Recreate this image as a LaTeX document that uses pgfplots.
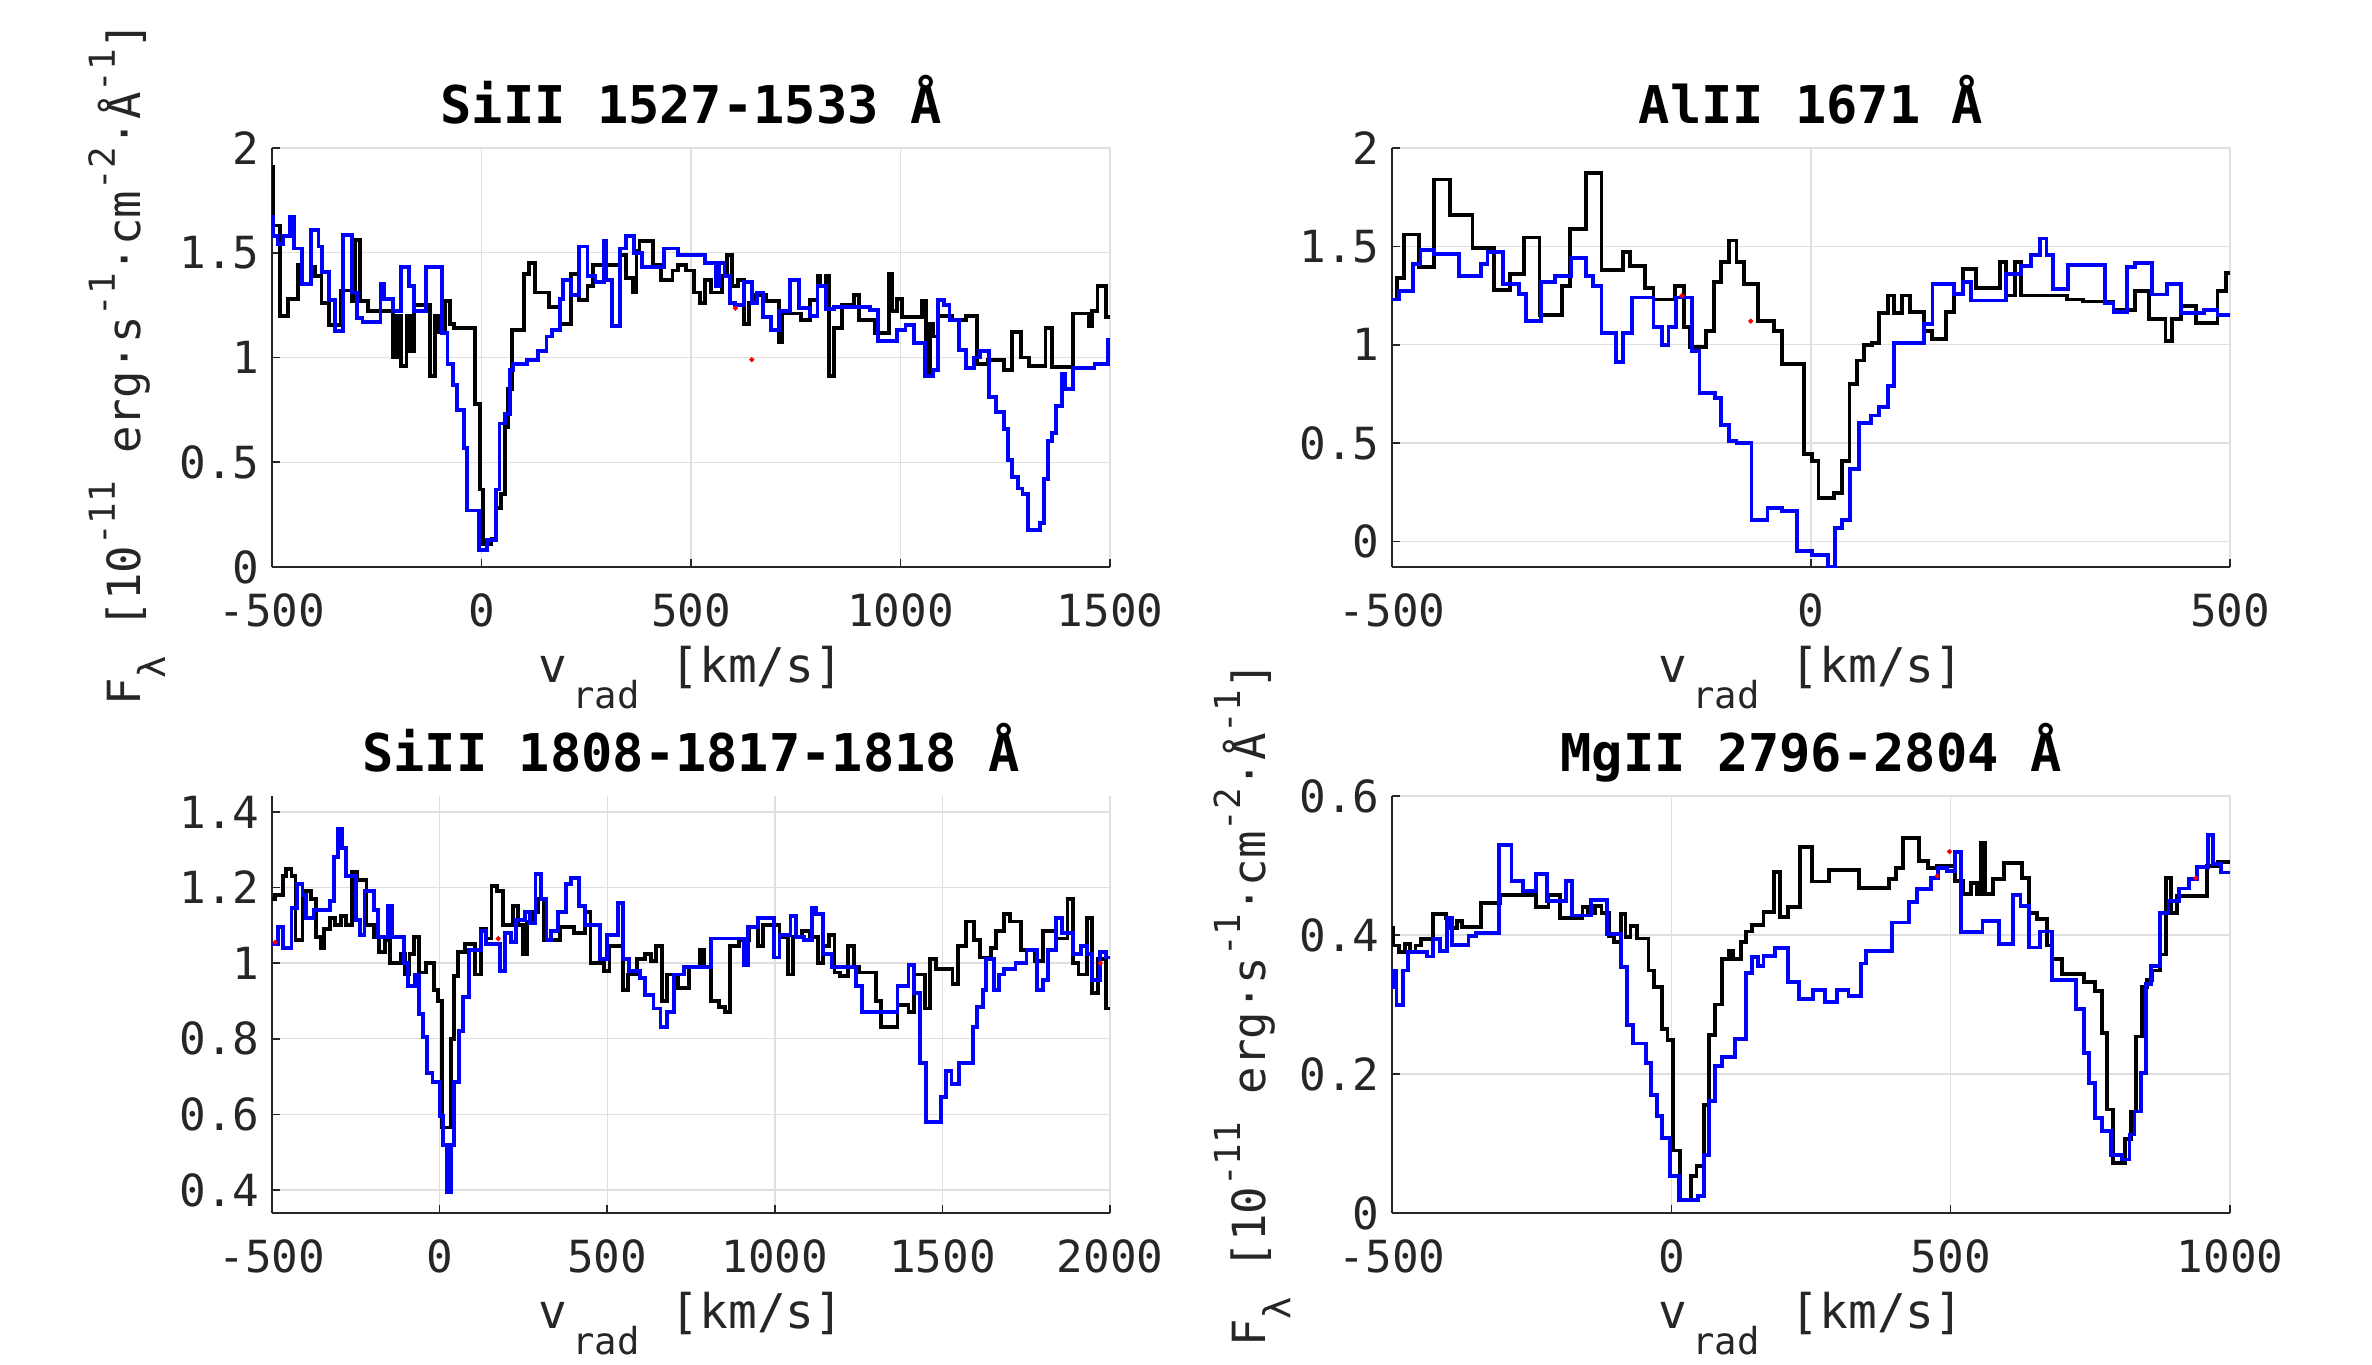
\documentclass[border=0pt]{standalone}
\usepackage{fontspec}
\setmainfont{DejaVu Sans Mono}
\usepackage{pgfplots}
\pgfplotsset{compat=1.18}
\definecolor{gridc}{RGB}{223,223,223}
\definecolor{axc}{RGB}{38,38,38}
\definecolor{mblue}{RGB}{0,0,255}
\newcommand{\sups}[1]{\raisebox{0.55em}{\fontsize{10.2}{11}\selectfont #1}}
\newcommand{\subs}[1]{\raisebox{-0.55em}{\fontsize{10.6}{11}\selectfont #1}}
\pgfplotsset{
 panel/.style={
  scale only axis, width=83.8mm, height=41.9mm, anchor=south west,
  axis lines*=left, axis line style={axc, line width=0.45pt},
  tick align=inside, major tick length=0.8mm, tick style={axc, line width=0.45pt},
  grid=major, grid style={gridc, line width=0.4pt},
  enlargelimits=false, clip=true,
  /pgf/number format/assume math mode=true,
  /pgf/number format/1000 sep={},
  ticklabel style={font=\fontsize{12.6}{15}\selectfont, text=axc},
  xticklabel style={anchor=base, yshift=-5.95mm},
  title style={font=\bfseries\fontsize{14.8}{18}\selectfont, at={(axis description cs:0.5,1)}, anchor=base, yshift=0.3mm},
  xlabel style={font=\fontsize{13.6}{16}\selectfont, text=axc, at={(axis description cs:0.5,0)}, anchor=base, yshift=-11.5mm},
  xlabel={v\hspace{0.1em}\subs{rad}\hspace{0.05em} [km/s]},
  ylabel style={font=\fontsize{13.0}{16}\selectfont, text=axc, anchor=base},
 },
 blk/.style={black, line width=1.1pt, const plot mark left, no marks},
 blu/.style={mblue, line width=1.1pt, const plot mark left, no marks},
 rdot/.style={red, only marks, mark=*, mark size=0.5pt},
}
\begin{document}
\begin{tikzpicture}
\useasboundingbox (0,0) rectangle (237.2mm,136.4mm);
% ---------------- Panel 1
\begin{axis}[panel, at={(27.2mm,79.7mm)},
  xmin=-500, xmax=1500, ymin=0, ymax=2,
  xtick={-500,0,500,1000,1500}, ytick={0,0.5,1,1.5,2},
  title={SiII 1527-1533 Å},
  ylabel={F\subs{λ} [10\sups{-11} erg·s\sups{-1}·cm\sups{-2}·Å\sups{-1}]},
  ylabel style={at={(axis description cs:-0.1575,0.485)}}]
\addplot[blk] coordinates {(-500,1.91) (-497,1.63) (-480,1.20) (-461,1.28) (-437,1.44) (-428,1.35) (-406,1.43) (-398,1.39) (-382,1.26) (-363,1.155) (-336,1.32) (-310,1.27) (-301,1.56) (-291,1.27) (-271,1.22) (-212,1.00) (-202,1.20) (-192,0.96) (-179,1.20) (-170,1.03) (-162,1.25) (-123,0.91) (-110,1.20) (-101,1.12) (-88,1.27) (-75,1.16) (-65,1.14) (-16,0.78) (-3,0.37) (4,0.11) (24,0.135) (34,0.28) (47,0.35) (56,0.67) (63,0.85) (73,1.13) (102,1.40) (113,1.45) (128,1.31) (161,1.24) (187,1.16) (213,1.40) (233,1.275) (253,1.34) (266,1.44) (331,1.49) (344,1.38) (361,1.31) (370,1.51) (377,1.555) (410,1.44) (429,1.37) (456,1.415) (469,1.44) (488,1.415) (508,1.31) (521,1.26) (534,1.37) (547,1.31) (573,1.39) (586,1.49) (597,1.34) (613,1.37) (626,1.16) (639,1.26) (652,1.30) (678,1.27) (711,1.075) (717,1.21) (763,1.18) (783,1.275) (802,1.39) (809,1.34) (822,1.39) (829,0.91) (842,1.14) (861,1.25) (888,1.30) (901,1.18) (940,1.115) (973,1.40) (979,1.22) (992,1.28) (1003,1.195) (1051,1.27) (1060,0.91) (1071,1.16) (1077,1.10) (1090,1.20) (1123,1.18) (1156,1.20) (1182,0.97) (1208,0.99) (1248,0.94) (1267,1.12) (1287,1.0) (1306,0.96) (1346,1.14) (1361,0.955) (1411,1.21) (1450,1.15) (1456,1.22) (1470,1.34) (1490,1.195) (1500,1.195)};
\addplot[blu] coordinates {(-500,1.67) (-498,1.58) (-487,1.54) (-474,1.58) (-458,1.67) (-448,1.52) (-428,1.35) (-406,1.61) (-389,1.53) (-380,1.41) (-363,1.275) (-349,1.125) (-330,1.585) (-310,1.31) (-297,1.19) (-284,1.17) (-241,1.35) (-232,1.28) (-212,1.22) (-192,1.43) (-173,1.34) (-162,1.22) (-133,1.43) (-94,1.115) (-81,0.97) (-68,0.87) (-58,0.75) (-42,0.57) (-35,0.27) (-5,0.08) (13,0.13) (34,0.37) (43,0.685) (56,0.73) (69,0.94) (76,0.97) (109,0.99) (135,1.03) (155,1.10) (168,1.13) (187,1.28) (194,1.37) (213,1.30) (233,1.53) (253,1.39) (272,1.36) (292,1.555) (298,1.37) (312,1.15) (331,1.52) (344,1.58) (364,1.50) (384,1.43) (436,1.52) (469,1.49) (534,1.45) (560,1.34) (567,1.45) (580,1.39) (593,1.26) (606,1.25) (626,1.36) (645,1.26) (658,1.31) (672,1.195) (691,1.13) (711,1.22) (737,1.37) (757,1.235) (783,1.20) (802,1.34) (822,1.23) (842,1.24) (927,1.225) (946,1.08) (992,1.13) (1012,1.155) (1032,1.07) (1058,0.91) (1077,0.94) (1090,1.275) (1104,1.25) (1117,1.18) (1139,1.035) (1156,0.95) (1176,1.0) (1189,1.03) (1212,0.81) (1228,0.74) (1247,0.66) (1257,0.51) (1267,0.43) (1280,0.375) (1291,0.35) (1304,0.175) (1333,0.21) (1343,0.42) (1352,0.60) (1361,0.64) (1372,0.77) (1385,0.92) (1392,0.85) (1411,0.95) (1463,0.97) (1496,1.085) (1500,1.085)};
\addplot[rdot] coordinates {(606,1.235) (645,0.99)};
\end{axis}
% ---------------- Panel 2
\begin{axis}[panel, at={(139.2mm,79.7mm)},
  xmin=-500, xmax=500, ymin=-0.13, ymax=2,
  xtick={-500,0,500}, ytick={0,0.5,1,1.5,2},
  title={AlII 1671 Å}]
\addplot[blk] coordinates {(-500,1.23) (-494,1.34) (-486,1.56) (-468,1.395) (-450,1.84) (-431,1.66) (-404,1.49) (-378,1.28) (-359,1.36) (-342,1.545) (-324,1.15) (-297,1.30) (-288,1.59) (-268,1.875) (-250,1.38) (-224,1.47) (-216,1.40) (-198,1.29) (-188,1.23) (-162,1.30) (-152,1.09) (-144,0.99) (-125,1.07) (-116,1.32) (-107,1.42) (-98,1.53) (-89,1.42) (-80,1.31) (-63,1.12) (-44,1.07) (-35,0.90) (-8,0.445) (1,0.41) (9,0.22) (27,0.245) (37,0.41) (46,0.80) (55,0.92) (63,1.0) (73,1.01) (81,1.16) (92,1.25) (99,1.16) (109,1.25) (118,1.165) (135,1.07) (144,1.03) (161,1.165) (171,1.26) (181,1.385) (197,1.29) (225,1.42) (233,1.25) (243,1.42) (251,1.25) (305,1.23) (325,1.22) (361,1.175) (387,1.275) (403,1.13) (423,1.02) (431,1.13) (441,1.195) (459,1.11) (485,1.275) (495,1.365) (500,1.365)};
\addplot[blu] coordinates {(-500,1.23) (-492,1.275) (-475,1.41) (-466,1.48) (-450,1.46) (-420,1.35) (-394,1.41) (-386,1.47) (-368,1.31) (-348,1.26) (-340,1.12) (-322,1.32) (-306,1.35) (-286,1.44) (-268,1.35) (-260,1.30) (-250,1.06) (-233,0.91) (-224,1.06) (-214,1.24) (-188,1.09) (-178,1.0) (-170,1.09) (-161,1.24) (-142,0.97) (-133,0.755) (-115,0.73) (-107,0.59) (-98,0.51) (-89,0.50) (-71,0.11) (-52,0.17) (-35,0.155) (-17,-0.05) (1,-0.07) (20,-0.13) (29,0.07) (37,0.11) (47,0.37) (57,0.60) (72,0.64) (81,0.685) (92,0.79) (99,1.01) (135,1.105) (145,1.31) (171,1.26) (181,1.32) (191,1.225) (233,1.36) (251,1.40) (263,1.455) (273,1.54) (281,1.455) (289,1.285) (307,1.405) (351,1.21) (361,1.165) (377,1.395) (387,1.415) (407,1.255) (425,1.31) (441,1.16) (469,1.175) (485,1.15) (500,1.15)};
\addplot[rdot] coordinates {(-154,1.25) (-72,1.12)};
\end{axis}
% ---------------- Panel 3
\begin{axis}[panel, at={(27.2mm,15.1mm)}, height=41.7mm,
  xmin=-500, xmax=2000, ymin=0.339, ymax=1.442,
  xtick={-500,0,500,1000,1500,2000}, ytick={0.4,0.6,0.8,1,1.2,1.4},
  title={SiII 1808-1817-1818 Å}]
\addplot[blk] coordinates {(-500,1.17) (-491,1.18) (-466,1.23) (-458,1.25) (-442,1.23) (-430,1.06) (-409,1.19) (-384,1.17) (-368,1.07) (-355,1.04) (-344,1.09) (-327,1.12) (-311,1.10) (-294,1.125) (-278,1.10) (-262,1.24) (-245,1.22) (-218,1.10) (-196,1.07) (-180,1.03) (-164,1.06) (-147,1.0) (-115,1.025) (-103,0.97) (-90,1.025) (-77,1.07) (-61,0.975) (-41,1.0) (-16,0.93) (-5,0.90) (8,0.565) (33,0.80) (44,0.965) (54,1.03) (77,1.05) (106,0.97) (123,1.09) (139,1.065) (155,1.205) (172,1.19) (188,1.10) (218,1.15) (234,1.10) (250,1.025) (262,1.11) (278,1.135) (294,1.17) (311,1.06) (360,1.095) (401,1.08) (434,1.135) (450,1.0) (491,0.98) (507,1.045) (548,0.93) (561,0.97) (589,1.01) (614,1.025) (630,1.005) (646,1.045) (663,0.90) (679,0.97) (712,0.935) (744,0.99) (777,1.035) (790,0.99) (810,0.90) (834,0.885) (851,0.87) (867,1.045) (892,1.06) (924,1.095) (949,1.045) (965,1.10) (1014,1.07) (1039,0.97) (1055,1.07) (1080,1.085) (1104,1.07) (1129,1.0) (1145,1.045) (1162,1.075) (1178,0.975) (1194,0.965) (1219,1.045) (1235,0.99) (1252,0.975) (1301,0.90) (1317,0.83) (1366,0.89) (1399,0.87) (1415,0.97) (1448,0.88) (1464,1.01) (1481,0.985) (1530,0.945) (1546,1.045) (1571,1.11) (1595,1.06) (1611,1.015) (1644,1.04) (1661,1.085) (1685,1.13) (1701,1.11) (1734,1.035) (1775,1.005) (1800,1.085) (1840,1.065) (1873,1.17) (1890,1.0) (1906,0.97) (1931,1.12) (1947,0.92) (1963,1.01) (1988,0.88) (2000,0.88)};
\addplot[blu] coordinates {(-500,1.05) (-483,1.095) (-466,1.04) (-442,1.145) (-425,1.21) (-409,1.18) (-398,1.12) (-376,1.14) (-327,1.165) (-316,1.28) (-303,1.355) (-290,1.305) (-278,1.23) (-250,1.115) (-237,1.075) (-224,1.19) (-196,1.14) (-185,1.07) (-155,1.15) (-142,1.07) (-106,1.0) (-93,0.94) (-74,0.97) (-61,0.865) (-49,0.805) (-38,0.71) (-21,0.685) (0,0.595) (11,0.52) (21,0.395) (33,0.52) (44,0.685) (57,0.82) (70,0.91) (87,1.035) (123,1.085) (139,1.05) (180,0.98) (196,1.08) (213,1.055) (229,1.115) (254,1.135) (270,1.105) (286,1.235) (303,1.17) (319,1.06) (332,1.085) (352,1.135) (376,1.21) (393,1.225) (417,1.15) (434,1.10) (479,1.01) (499,1.075) (532,1.16) (548,1.01) (564,0.98) (597,0.96) (614,0.915) (638,0.88) (659,0.83) (679,0.87) (699,0.97) (728,0.99) (810,1.065) (908,0.995) (921,1.095) (949,1.12) (998,1.015) (1014,1.075) (1047,1.125) (1063,1.07) (1088,1.06) (1112,1.145) (1124,1.13) (1145,1.025) (1170,0.99) (1243,0.94) (1260,0.87) (1366,0.94) (1399,0.995) (1415,0.92) (1432,0.735) (1451,0.58) (1497,0.645) (1510,0.715) (1527,0.68) (1550,0.735) (1592,0.83) (1603,0.885) (1620,0.93) (1631,1.01) (1653,0.93) (1669,0.97) (1685,0.985) (1718,1.0) (1751,1.035) (1783,0.93) (1800,0.955) (1816,1.035) (1840,1.12) (1857,1.08) (1890,1.025) (1914,1.045) (1931,1.025) (1947,0.955) (1971,1.03) (1988,1.015) (2000,1.015)};
\addplot[rdot] coordinates {(-491,1.055) (175,1.065) (1971,1.0)};
\end{axis}
% ---------------- Panel 4
\begin{axis}[panel, at={(139.2mm,15.1mm)}, height=41.7mm,
  xmin=-500, xmax=1000, ymin=0, ymax=0.6,
  xtick={-500,0,500,1000}, ytick={0,0.2,0.4,0.6},
  title={MgII 2796-2804 Å},
  ylabel={F\subs{λ} [10\sups{-11} erg·s\sups{-1}·cm\sups{-2}·Å\sups{-1}]},
  ylabel style={at={(axis description cs:-0.1514,0.5)}}]
\addplot[blk] coordinates {(-500,0.41) (-498,0.385) (-487,0.375) (-477,0.387) (-468,0.375) (-458,0.385) (-448,0.394) (-426,0.43) (-404,0.425) (-394,0.41) (-384,0.42) (-375,0.412) (-340,0.446) (-306,0.458) (-242,0.44) (-220,0.457) (-200,0.424) (-159,0.44) (-149,0.432) (-137,0.442) (-125,0.432) (-112,0.399) (-102,0.39) (-90,0.43) (-82,0.397) (-73,0.413) (-61,0.395) (-41,0.349) (-31,0.325) (-17,0.265) (-7,0.249) (3,0.09) (16,0.018) (35,0.053) (45,0.068) (59,0.156) (67,0.256) (78,0.30) (91,0.366) (103,0.377) (111,0.366) (124,0.39) (133,0.405) (145,0.414) (165,0.433) (184,0.491) (194,0.426) (209,0.44) (231,0.527) (251,0.477) (282,0.493) (336,0.468) (390,0.48) (402,0.497) (415,0.539) (444,0.506) (459,0.496) (476,0.499) (508,0.478) (523,0.459) (537,0.475) (547,0.459) (555,0.532) (562,0.459) (576,0.481) (596,0.504) (627,0.482) (640,0.432) (655,0.423) (673,0.385) (682,0.366) (699,0.344) (738,0.332) (758,0.319) (771,0.259) (780,0.149) (790,0.0715) (812,0.106) (822,0.146) (831,0.254) (843,0.325) (851,0.335) (861,0.349) (875,0.372) (885,0.482) (895,0.432) (905,0.456) (959,0.499) (978,0.505) (1000,0.505)};
\addplot[blu] coordinates {(-500,0.325) (-498,0.349) (-492,0.299) (-480,0.349) (-471,0.375) (-438,0.369) (-426,0.394) (-414,0.377) (-402,0.425) (-392,0.386) (-363,0.399) (-350,0.403) (-308,0.53) (-286,0.478) (-265,0.463) (-242,0.488) (-223,0.449) (-188,0.478) (-178,0.428) (-144,0.45) (-115,0.401) (-90,0.354) (-80,0.270) (-69,0.244) (-46,0.216) (-36,0.170) (-26,0.139) (-17,0.108) (-2,0.053) (13,0.019) (47,0.025) (59,0.084) (67,0.161) (78,0.211) (91,0.225) (114,0.251) (133,0.345) (145,0.368) (155,0.356) (165,0.37) (186,0.381) (209,0.332) (228,0.308) (253,0.321) (275,0.304) (297,0.321) (317,0.312) (339,0.359) (349,0.377) (395,0.418) (425,0.448) (439,0.466) (464,0.482) (478,0.496) (493,0.492) (508,0.519) (518,0.404) (557,0.42) (586,0.387) (611,0.458) (625,0.442) (640,0.382) (660,0.405) (682,0.335) (724,0.293) (738,0.23) (748,0.187) (758,0.137) (771,0.118) (787,0.084) (807,0.077) (820,0.113) (829,0.146) (841,0.201) (849,0.33) (859,0.356) (875,0.432) (890,0.449) (908,0.467) (927,0.48) (941,0.498) (961,0.544) (969,0.502) (984,0.49) (1000,0.49)};
\addplot[rdot] coordinates {(498,0.52) (476,0.485) (939,0.482)};
\end{axis}
\end{tikzpicture}
\end{document}
